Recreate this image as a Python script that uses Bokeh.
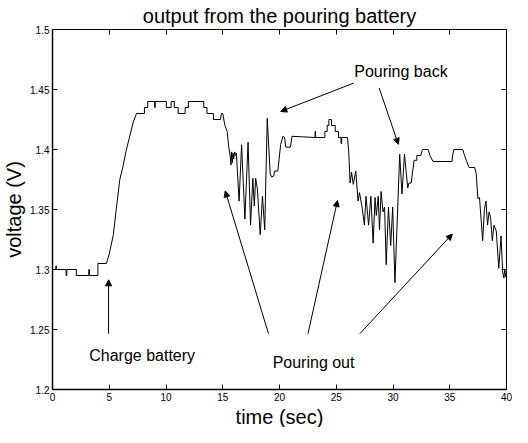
from bokeh.plotting import figure
from bokeh.models import (Range1d, FixedTicker, LinearAxis, Arrow, NormalHead, Label, Title,
                          CustomLabelingPolicy)
from bokeh.embed import file_html
from bokeh.resources import INLINE

# ---- data ----
time_s = [
    0.0, 0.3, 0.3, 0.34, 0.34, 1.2, 1.2, 1.26, 1.26, 2.1, 2.1, 3.2, 3.2, 3.25, 3.25, 4.0, 4.0, 4.75,
    5.0, 5.36, 5.59, 5.93, 6.21, 6.49, 6.83, 7.12, 7.4,
    8.1, 8.1, 8.39, 8.39, 9.0, 9.0, 9.05, 9.05, 10.03, 10.03, 10.45, 10.45, 10.73, 10.73, 11.07, 11.07,
    11.69, 11.69, 11.97, 11.97, 13.33, 13.33, 13.61, 13.61, 14.18, 14.18, 14.8, 14.88, 15.0,
    15.19, 15.39, 15.53, 15.68,
    15.72, 15.78, 15.84, 15.9, 15.97, 16.05, 16.12, 16.2,
    16.44, 16.66, 16.95, 17.23, 17.45, 17.65, 17.78, 17.9, 18.05, 18.3, 18.5, 18.7, 18.92, 19.18,
    19.3, 19.5, 19.55, 19.85, 20.1, 20.3, 20.45, 20.55, 20.96, 21.1,
    23.13, 23.13, 23.18, 23.18, 24.0, 24.0, 24.2, 24.2, 24.35, 24.35, 24.58, 24.58, 24.91, 24.91,
    25.2, 25.2, 25.42, 25.42, 25.48, 25.48, 25.99, 26.1, 26.22,
    26.35, 26.5, 26.72, 26.92, 27.05, 27.29, 27.48, 27.62, 27.85, 28.05, 28.25, 28.42, 28.53, 28.7,
    28.81, 28.95, 29.12, 29.26, 29.4, 29.6, 29.8, 29.97, 30.17, 30.59, 30.79, 31.01, 31.3, 31.4,
    31.6, 31.86,
    32.1, 32.1, 32.45, 32.6, 33.1, 33.25, 33.53, 35.2, 35.25, 35.36, 36.15, 36.3, 36.5, 36.7, 37.2,
    37.33, 37.48, 37.62, 37.76, 37.9, 38.05, 38.19, 38.33, 38.47, 38.6, 38.75, 38.9, 39.1, 39.32,
    39.52, 39.66, 39.77, 39.85, 39.92, 40.0,
]
voltage_v = [
    1.3, 1.3, 1.303, 1.303, 1.3, 1.3, 1.295, 1.295, 1.3, 1.3, 1.295, 1.295, 1.3, 1.3, 1.295, 1.295, 1.305, 1.305,
    1.313, 1.329, 1.348, 1.375, 1.386, 1.399, 1.412, 1.423, 1.43,
    1.43, 1.435, 1.435, 1.44, 1.44, 1.435, 1.435, 1.44, 1.44, 1.435, 1.435, 1.44, 1.44, 1.435, 1.435, 1.43,
    1.43, 1.435, 1.435, 1.44, 1.44, 1.435, 1.435, 1.43, 1.43, 1.425, 1.425, 1.43, 1.43,
    1.42, 1.415, 1.402, 1.393,
    1.387, 1.398, 1.389, 1.397, 1.392, 1.398, 1.395, 1.397,
    1.357, 1.404, 1.342, 1.406, 1.337, 1.376, 1.353, 1.376, 1.367, 1.329, 1.361, 1.333, 1.426, 1.38,
    1.377, 1.378, 1.382, 1.382, 1.404, 1.411, 1.41, 1.402, 1.402, 1.411,
    1.41, 1.415, 1.415, 1.41, 1.41, 1.415, 1.415, 1.42, 1.42, 1.425, 1.425, 1.42, 1.42, 1.415,
    1.415, 1.41, 1.41, 1.405, 1.405, 1.41, 1.41, 1.398, 1.372,
    1.381, 1.371, 1.382, 1.357, 1.364, 1.351, 1.337, 1.361, 1.337, 1.361, 1.322, 1.36, 1.345, 1.361,
    1.333, 1.365, 1.348, 1.352, 1.304, 1.352, 1.32, 1.352, 1.289, 1.396, 1.363, 1.396, 1.368, 1.372,
    1.372, 1.391,
    1.391, 1.395, 1.395, 1.4, 1.4, 1.395, 1.39, 1.39, 1.395, 1.4, 1.4, 1.395, 1.39, 1.385, 1.385,
    1.38, 1.359, 1.36, 1.342, 1.324, 1.35, 1.357, 1.337, 1.348, 1.343, 1.324, 1.337, 1.332, 1.301,
    1.328, 1.298, 1.293, 1.3, 1.294, 1.298,
]
x_ticks = [0, 5, 10, 15, 20, 25, 30, 35, 40]
x_tick_labels = ["0", "5", "10", "15", "20", "25", "30", "35", "40"]
y_ticks = [1.2, 1.25, 1.3, 1.35, 1.4, 1.45, 1.5]
y_tick_labels = ["1.2", "1.25", "1.3", "1.35", "1.4", "1.45", "1.5"]
title_text = "output from the pouring battery"
x_label = "time (sec)"
y_label = "voltage (V)"

FONT = "Liberation Sans"

p = figure(width=512, height=427, output_backend="svg", toolbar_location=None,
           x_range=Range1d(0, 40), y_range=Range1d(1.2, 1.5),
           title=title_text, y_axis_label=y_label,
           min_border_left=44, min_border_right=6, min_border_top=24, min_border_bottom=32)
p.background_fill_color = "white"
p.border_fill_color = "white"
p.grid.visible = False
p.outline_line_color = "black"
p.outline_line_width = 1

p.title.align = "center"
p.title.text_font = FONT
p.title.text_font_size = "20px"
p.title.text_font_style = "normal"
p.title.text_color = "black"
p.title.standoff = 5

def style_axis(ax, ticks, labels, show):
    ax.ticker = FixedTicker(ticks=ticks)
    ax.major_label_overrides = {t: l for t, l in zip(ticks, labels)}
    ax.major_tick_in = 5
    ax.major_tick_out = 0
    ax.minor_tick_line_color = None
    ax.major_tick_line_color = "black"
    ax.axis_line_color = "black"
    ax.major_label_text_font = FONT
    ax.major_label_text_color = "black"
    if show:
        ax.major_label_text_font_size = "10px"
        ax.major_label_standoff = 3
        ax.axis_line_width = 1.5
        ax.axis_label_text_font = FONT
        ax.axis_label_text_font_size = "20px"
        ax.axis_label_text_font_style = "normal"
        ax.axis_label_text_color = "black"
        ax.axis_label_standoff = 2
    else:
        ax.major_label_text_font_size = "0px"
        ax.major_label_standoff = 0
        ax.major_label_policy = CustomLabelingPolicy(
            code="for (const i of [...indices]) indices.unset(i); return indices;")

style_axis(p.xaxis[0], x_ticks, x_tick_labels, True)
style_axis(p.yaxis[0], y_ticks, y_tick_labels, True)
p.xaxis[0].major_label_text_line_height = 0.9
top_ax = LinearAxis()
right_ax = LinearAxis()
style_axis(top_ax, x_ticks, x_tick_labels, False)
style_axis(right_ax, y_ticks, y_tick_labels, False)
p.add_layout(top_ax, "above")
p.add_layout(right_ax, "right")

# x-axis caption as a title below the axis
p.add_layout(Title(text=x_label, align="center", text_font=FONT, text_font_size="20px",
                   text_font_style="normal", text_color="black", standoff=0,
                   text_line_height=0.6), "below")

p.line(time_s, voltage_v, line_color="black", line_width=1)

def arrow(x0, y0, x1, y1):
    p.add_layout(Arrow(end=NormalHead(size=6, line_color="black", fill_color="black", line_width=1),
                       x_start=x0, y_start=y0, x_end=x1, y_end=y1,
                       line_color="black", line_width=1))

arrow(4.94, 1.2465, 4.94, 1.2914)
arrow(26.53, 1.4553, 20.11, 1.4317)
arrow(28.78, 1.4513, 30.47, 1.4043)
arrow(19.03, 1.2465, 15.22, 1.3655)
arrow(22.51, 1.2465, 25.11, 1.3575)
arrow(27.08, 1.2465, 35.22, 1.3295)

for (lx, ly, txt) in [(30.7, 1.4648, "Pouring back"), (7.9, 1.2285, "Charge battery"),
                      (23.0, 1.2229, "Pouring out")]:
    p.add_layout(Label(x=lx, y=ly, text=txt, text_font=FONT, text_font_size="16px",
                       text_align="center", text_baseline="middle", text_color="black"))

open("out.html", "w").write(file_html(p, INLINE))
